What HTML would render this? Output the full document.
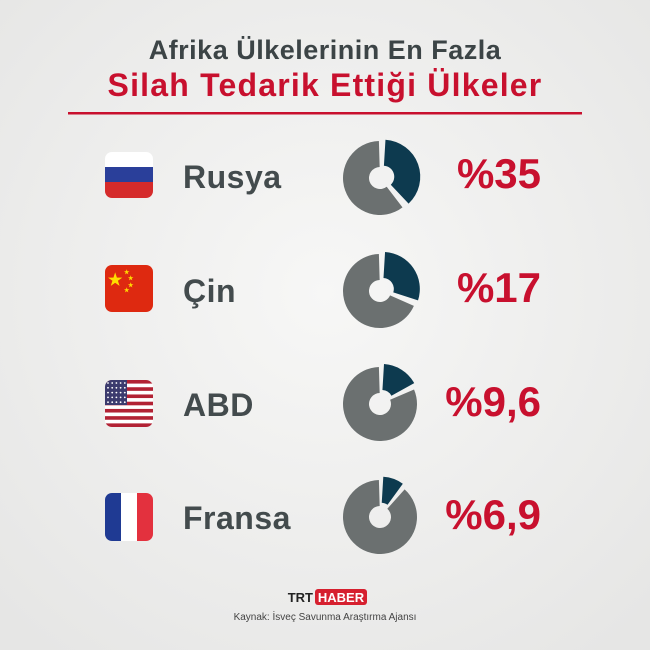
<!DOCTYPE html>
<html><head><meta charset="utf-8"><style>
body{margin:0;width:650px;height:650px;overflow:hidden;background:#efefee}
svg{display:block}
text{font-family:"Liberation Sans",sans-serif;font-weight:bold}
</style></head><body>
<svg id="s" width="650" height="650" viewBox="0 0 650 650">
<defs>
<radialGradient id="bg" cx="50%" cy="45%" r="70%"><stop offset="0" stop-color="#f7f7f6"/><stop offset="1" stop-color="#e6e6e5"/></radialGradient>
</defs>
<rect width="650" height="650" fill="url(#bg)"/>
<text x="325" y="59" text-anchor="middle" font-size="27" letter-spacing="0.5" fill="#3c4446">Afrika Ülkelerinin En Fazla</text>
<text x="325" y="96" text-anchor="middle" font-size="32" letter-spacing="1.2" fill="#c8102e">Silah Tedarik Ettiği Ülkeler</text>
<rect x="68" y="112" width="514" height="2.5" fill="#c8102e"/>

<g>
<clipPath id="c1"><rect x="105" y="152" width="48" height="46" rx="7"/></clipPath>
<g clip-path="url(#c1)"><rect x="105" y="152" width="48" height="16" fill="#fff"/><rect x="105" y="167" width="48" height="16" fill="#2a3f9a"/><rect x="105" y="182" width="48" height="16" fill="#d52b2b"/></g>
<clipPath id="c2"><rect x="105" y="265" width="48" height="47" rx="7"/></clipPath>
<g clip-path="url(#c2)"><rect x="105" y="265" width="48" height="47" fill="#de2910"/>
<text x="108" y="285" font-size="16" fill="#ffde00">★</text><text x="124" y="274" font-size="6" fill="#ffde00">★</text><text x="128" y="280" font-size="6" fill="#ffde00">★</text><text x="128" y="287" font-size="6" fill="#ffde00">★</text><text x="124" y="292" font-size="6" fill="#ffde00">★</text></g>
<clipPath id="c3"><rect x="105" y="380" width="48" height="47" rx="7"/></clipPath>
<g clip-path="url(#c3)" id="us"></g>
<clipPath id="c4"><rect x="105" y="493" width="48" height="48" rx="7"/></clipPath>
<g clip-path="url(#c4)"><rect x="105" y="493" width="16" height="48" fill="#1f3a93"/><rect x="121" y="493" width="16" height="48" fill="#fff"/><rect x="137" y="493" width="16" height="48" fill="#e3313e"/></g>
</g>

<g font-size="32" fill="#434b4d" letter-spacing="0.5">
<text x="183" y="188">Rusya</text>
<text x="183" y="302">Çin</text>
<text x="183" y="416">ABD</text>
<text x="183" y="529">Fransa</text>
</g>
<g font-size="42" fill="#c8102e" text-anchor="end">
<text x="541" y="188">%35</text>
<text x="541" y="302">%17</text>
<text x="541" y="416">%9,6</text>
<text x="541" y="529">%6,9</text>
</g>
<g id="donuts"></g>

<text x="313" y="602" text-anchor="end" font-size="13" fill="#222">TRT</text>
<rect x="315" y="589" width="52" height="16" rx="3" fill="#d6202f"/>
<text x="341" y="602" text-anchor="middle" font-size="13" fill="#fff">HABER</text>
<text x="325" y="620" text-anchor="middle" font-size="10" fill="#444" style="font-weight:normal">Kaynak: İsveç Savunma Araştırma Ajansı</text>
</svg>
<script>
var ns="http://www.w3.org/2000/svg";
function el(p,t,a){var e=document.createElementNS(ns,t);for(var k in a)e.setAttribute(k,a[k]);p.appendChild(e);return e;}
var us=document.getElementById("us");
for(var i=0;i<13;i++)el(us,"rect",{x:105,y:380+i*47/13,width:48,height:47/13+0.3,fill:i%2?"#fff":"#b22234"});
el(us,"rect",{x:105,y:380,width:22,height:25,fill:"#3c3b6e"});
for(var r=0;r<5;r++)for(var c=0;c<5;c++)el(us,"circle",{cx:108+c*4.2,cy:383+r*4.8,r:0.9,fill:"#fff"});
var d=document.getElementById("donuts");
function pt(cx,cy,r,a){return [cx+r*Math.sin(a),cy-r*Math.cos(a)];}
function arc(cx,cy,R,ri,a0,a1){var l=(a1-a0)>Math.PI?1:0;var p1=pt(cx,cy,R,a0),p2=pt(cx,cy,R,a1),p3=pt(cx,cy,ri,a1),p4=pt(cx,cy,ri,a0);
return "M"+p1+"A"+R+","+R+" 0 "+l+" 1 "+p2+"L"+p3+"A"+ri+","+ri+" 0 "+l+" 0 "+p4+"Z";}
[[178,0.38],[291,0.3],[404,0.17],[517,0.1]].forEach(function(v){
var cx=380,cy=v[0],a=2*Math.PI*v[1];
el(d,"path",{d:arc(cx,cy,37,11,a+0.1,2*Math.PI-0.03),fill:"#6b7070"});
var m=a/2,ox=3.5*Math.sin(m),oy=-3.5*Math.cos(m);
el(d,"path",{d:arc(cx+ox,cy+oy,37,11,0.06,a),fill:"#0d3a4f"});
});
</script>
</body></html>
